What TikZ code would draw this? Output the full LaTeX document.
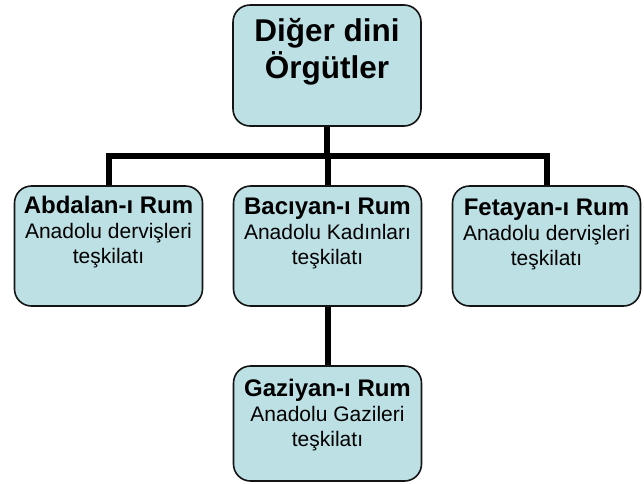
\documentclass[tikz,border=0pt]{standalone}
\usepackage{fontspec}
\setmainfont{Liberation Sans}
\usetikzlibrary{backgrounds}
\definecolor{boxfill}{RGB}{188,224,228}
\definecolor{boxline}{RGB}{20,20,20}
\tikzset{
  orgbox/.style={draw=boxline, line width=1.6pt, fill=boxfill, rounded corners=17pt,
    minimum width=188pt, minimum height=120pt, inner sep=0pt},
  conn/.style={line width=6pt, black},
  toptext/.style={anchor=north, inner sep=0pt, align=center, font=\fontsize{31.5}{37}\selectfont\bfseries},
  subtext/.style={anchor=north, inner sep=0pt, align=center, font=\fontsize{21}{25}\selectfont},
}
\newcommand{\ttl}[1]{{\fontsize{24}{25}\selectfont\bfseries #1}}
\begin{document}
\begin{tikzpicture}[x=1pt,y=1pt]
\useasboundingbox (0,0) rectangle (644,-483);
\node[orgbox, minimum height=121pt] (top) at (327,-65.5) {};
\node[orgbox] (l) at (108.5,-246) {};
\node[orgbox] (m) at (327.5,-246) {};
\node[orgbox] (r) at (546.5,-246) {};
\node[orgbox, minimum height=115pt] (b) at (327.5,-423.5) {};
\coordinate (bar) at (327,-156);
\begin{pgfonlayer}{background}
\draw[conn] (top.south) -- (top.south |- bar);
\draw[conn] (l.north) -- (l.north |- bar) -- (r.north |- bar) -- (r.north);
\draw[conn] (m.north) -- (m.north |- bar);
\draw[conn] (m.south) -- (b.north);
\end{pgfonlayer}
\node[toptext] (ttop) at ([yshift=-14pt]top.north) {Diğer dini\\Örgütler};
\node[subtext] (tl) at ([yshift=-11pt]l.north) {\ttl{Abdalan-ı Rum}\\Anadolu dervişleri\\teşkilatı};
\node[subtext] (tm) at ([yshift=-13pt]m.north) {\ttl{Bacıyan-ı Rum}\\Anadolu Kadınları\\teşkilatı};
\node[subtext] (tr) at ([yshift=-14pt]r.north) {\ttl{Fetayan-ı Rum}\\Anadolu dervişleri\\teşkilatı};
\node[subtext] (tb) at ([yshift=-14pt]b.north) {\ttl{Gaziyan-ı Rum}\\Anadolu Gazileri\\teşkilatı};
\end{tikzpicture}
\end{document}
